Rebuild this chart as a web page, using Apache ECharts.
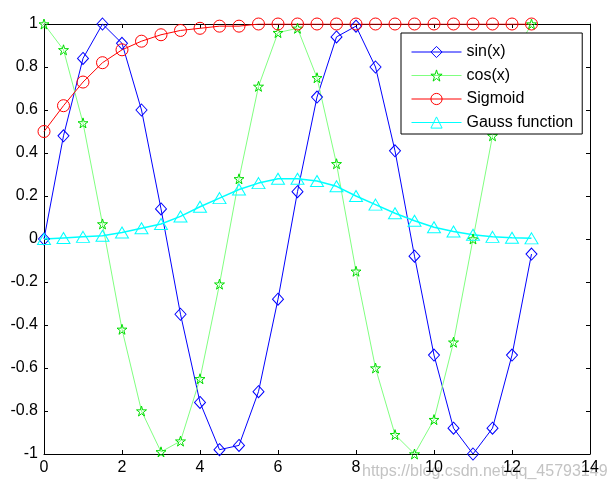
<!DOCTYPE html>
<html>
<head>
<meta charset="utf-8">
<script src="https://cdn.jsdelivr.net/npm/echarts@6/dist/echarts.min.js"></script>
<style>
  html, body { margin: 0; padding: 0; background: #fff; }
  #myChart { width: 614px; height: 490px; }
</style>
</head>
<body>
<div id="myChart"></div>
<script>
// x 取样点
let xs = [0, 0.5, 1, 1.5, 2, 2.5, 3, 3.5, 4, 4.5, 5, 5.5, 6, 6.5, 7, 7.5, 8, 8.5, 9, 9.5, 10, 10.5, 11, 11.5, 12, 12.5];
let sinY = [0, 0.48, 0.84, 1.0, 0.91, 0.6, 0.14, -0.35, -0.76, -0.98, -0.96, -0.71, -0.28, 0.22, 0.66, 0.94, 0.99, 0.8, 0.41, -0.08, -0.54, -0.88, -1.0, -0.88, -0.54, -0.07];
let cosY = [1.0, 0.88, 0.54, 0.07, -0.42, -0.8, -0.99, -0.94, -0.65, -0.21, 0.28, 0.71, 0.96, 0.98, 0.75, 0.35, -0.15, -0.6, -0.91, -1.0, -0.84, -0.48, 0.0, 0.48, 0.84, 1.0];
let sigY = [0.5, 0.62, 0.73, 0.82, 0.88, 0.92, 0.95, 0.97, 0.98, 0.99, 0.99, 1.0, 1.0, 1.0, 1.0, 1.0, 1.0, 1.0, 1.0, 1.0, 1.0, 1.0, 1.0, 1.0, 1.0, 1.0];
let gaussY = [0.0, 0.005, 0.01, 0.015, 0.03, 0.05, 0.07, 0.105, 0.15, 0.19, 0.23, 0.26, 0.28, 0.28, 0.27, 0.245, 0.2, 0.16, 0.12, 0.085, 0.055, 0.035, 0.02, 0.01, 0.006, 0.003];
let names = ['sin(x)', 'cos(x)', 'Sigmoid', 'Gauss function'];

let font = 'Liberation Sans, Arial, sans-serif';
let star = 'path://M50,0 L61,35 L98,35 L68,57 L79,91 L50,70 L21,91 L32,57 L2,35 L39,35 Z';

function pairs(ys) {
  return xs.map((x, i) => [x, ys[i]]);
}

function mkSeries(name, ys, color, lineColor, symbol, size, lw) {
  return {
    name: name,
    type: 'line',
    data: pairs(ys),
    symbol: symbol,
    symbolSize: size,
    showAllSymbol: true,
    lineStyle: { color: lineColor, width: lw },
    itemStyle: { color: 'rgba(0,0,0,0)', borderColor: color, borderWidth: 1 },
    emphasis: { disabled: true }
  };
}

// 盒子四边都要刻度
let tick = { show: true, inside: true, length: 4, lineStyle: { color: '#000' } };
let line = { show: true, onZero: false, lineStyle: { color: '#000', width: 1 } };

let option = {
  animation: false,
  backgroundColor: '#fff',
  grid: { left: 44, right: 24, top: 24, bottom: 36 },
  xAxis: [{
    type: 'value', position: 'bottom', min: 0, max: 14, interval: 2,
    axisLine: line, axisTick: tick, splitLine: { show: false },
    axisLabel: { color: '#000', fontSize: 16, fontFamily: font, margin: 6 }
  }, {
    type: 'value', position: 'top', min: 0, max: 14, interval: 2,
    axisLine: line, axisTick: tick, splitLine: { show: false },
    axisLabel: { show: false }
  }],
  yAxis: [{
    type: 'value', position: 'left', min: -1, max: 1, interval: 0.2,
    axisLine: line, axisTick: tick, splitLine: { show: false },
    axisLabel: {
      color: '#000', fontSize: 16, fontFamily: font, margin: 6,
      formatter: v => String(Number(v.toFixed(1)))
    }
  }, {
    type: 'value', position: 'right', min: -1, max: 1, interval: 0.2,
    axisLine: line, axisTick: tick, splitLine: { show: false },
    axisLabel: { show: false }
  }],
  legend: {
    data: names,
    orient: 'vertical',
    left: 401,
    top: 33,
    padding: [11, 9, 3.5, 10],
    itemWidth: 50,
    itemHeight: 14,
    itemGap: 7.5,
    borderColor: '#000',
    borderWidth: 1,
    backgroundColor: '#fff',
    lineStyle: { width: 1 },
    itemStyle: { borderWidth: 1 },
    textStyle: { color: '#000', fontSize: 16, fontFamily: font }
  },
  graphic: [{
    type: 'text', left: 362, top: 464, z: -1,
    style: { text: 'https://blog.csdn.net/qq_45793149', fill: 'rgba(175,175,175,0.75)', font: '16px ' + font }
  }],
  series: [
    mkSeries(names[0], sinY, '#0000ff', '#0000ff', 'diamond', [11, 12], 1),
    mkSeries(names[1], cosY, '#00dd00', '#80ff80', star, 10, 1),
    mkSeries(names[2], sigY, '#ff0000', '#ff0000', 'circle', 12, 1),
    mkSeries(names[3], gaussY, '#00ffff', '#00ffff', 'triangle', [13, 11], 1.5)
  ]
};

let chart = echarts.init(document.getElementById('myChart'));
chart.setOption(option);
</script>
</body>
</html>
